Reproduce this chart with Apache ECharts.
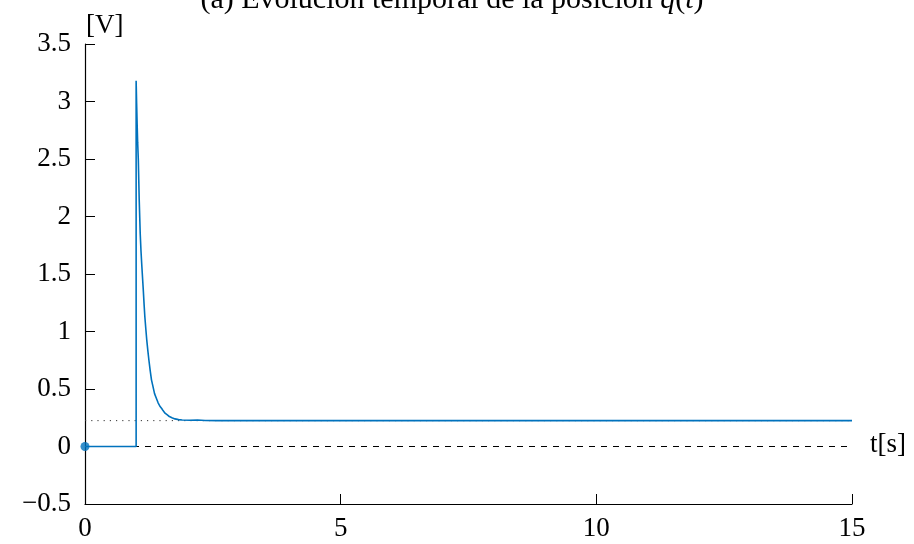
<!DOCTYPE html>
<html>
<head>
<meta charset="utf-8">
<script src="https://cdn.jsdelivr.net/npm/echarts@6/dist/echarts.min.js"></script>
<style>
  html, body { margin: 0; padding: 0; background: #fff; }
  #chart { width: 914px; height: 544px; }
</style>
</head>
<body>
<div id="chart"></div>
<script>
// Time samples [s] and measured output [V]
const timeS = [0, 1, 1, 1.01, 1.02, 1.03, 1.043, 1.06, 1.08, 1.095, 1.11, 1.125, 1.14, 1.155, 1.17, 1.19, 1.207,
  1.23, 1.25, 1.275, 1.30, 1.33, 1.36, 1.395, 1.43, 1.465, 1.5, 1.53, 1.565, 1.61, 1.65, 1.70, 1.76, 1.83, 1.9,
  2.05, 2.2, 2.35, 2.6, 3, 15];
const outputV = [0, 0, 3.18, 2.98, 2.80, 2.64, 2.49, 2.15, 1.85, 1.70, 1.58, 1.47, 1.36, 1.24, 1.13, 1.02, 0.93,
  0.83, 0.75, 0.66, 0.58, 0.52, 0.46, 0.42, 0.38, 0.35, 0.33, 0.31, 0.29, 0.275, 0.26, 0.25, 0.24, 0.234, 0.23,
  0.228, 0.23, 0.226, 0.225, 0.225, 0.225];

// Steady-state reference level and plot range
const steadyLevel = [0.225];
const xTicks = [0, 5, 10, 15];
const yTicks = [-0.5, 0, 0.5, 1, 1.5, 2, 2.5, 3, 3.5];

const FONT = '"Liberation Serif", "DejaVu Serif", serif';
const BLUE = '#0072BD';

const chart = echarts.init(document.getElementById('chart'), null, { renderer: 'canvas' });

const mainData = timeS.map((t, i) => [t, outputV[i]]);
const xMin = xTicks[0], xMax = xTicks[xTicks.length - 1];

chart.setOption({
  animation: false,
  backgroundColor: '#fff',
  title: {
    text: '(a) Evolución temporal de la posición {i|q}({i|t})',
    left: 447,
    textAlign: 'center',
    top: -20,
    textStyle: {
      fontFamily: FONT, fontSize: 30, fontWeight: 'normal', color: '#000',
      rich: { i: { fontFamily: FONT, fontSize: 30, fontStyle: 'italic', color: '#000' } }
    }
  },
  graphic: [
    { type: 'text', left: 86, top: 12, style: { text: '[V]', font: '27px ' + FONT, fill: '#000' } },
    { type: 'text', left: 870, top: 431, style: { text: 't[s]', font: '27px ' + FONT, fill: '#000' } }
  ],
  grid: { left: 85, right: 62, top: 44, bottom: 40, containLabel: false },
  xAxis: {
    type: 'value',
    min: xMin, max: xMax, interval: 5,
    axisLine: { onZero: false, lineStyle: { color: '#000', width: 1.2 } },
    axisTick: { inside: true, length: 10, lineStyle: { color: '#000', width: 1 } },
    axisLabel: { margin: 11, fontFamily: FONT, fontSize: 27, color: '#000' },
    splitLine: { show: false }
  },
  yAxis: {
    type: 'value',
    min: yTicks[0], max: yTicks[yTicks.length - 1], interval: 0.5,
    axisLine: { show: true, onZero: false, lineStyle: { color: '#000', width: 1.2 } },
    axisTick: { show: true, inside: true, length: 10, lineStyle: { color: '#000', width: 1 } },
    axisLabel: {
      margin: 14, fontFamily: FONT, fontSize: 27, color: '#000',
      formatter: v => String(v).replace('-', '\u2212')
    },
    splitLine: { show: false }
  },
  series: [
    {
      name: 'cero',
      type: 'line',
      data: [[xMin, 0], [xMax, 0]],
      symbol: 'none',
      silent: true,
      lineStyle: { color: '#000', width: 1, type: [6, 6] },
      z: 1
    },
    {
      name: 'referencia',
      type: 'line',
      data: [[xMin, steadyLevel[0]], [xMax, steadyLevel[0]]],
      symbol: 'none',
      silent: true,
      lineStyle: { color: '#333', width: 1, type: [1.2, 5] },
      z: 1
    },
    {
      name: 'salida',
      type: 'line',
      data: mainData,
      symbol: 'none',
      lineStyle: { color: BLUE, width: 1.6 },
      z: 3
    },
    {
      name: 'origen',
      type: 'scatter',
      data: [[0, 0]],
      symbolSize: 9,
      itemStyle: { color: BLUE },
      clip: false,
      z: 4
    }
  ]
});
</script>
</body>
</html>
